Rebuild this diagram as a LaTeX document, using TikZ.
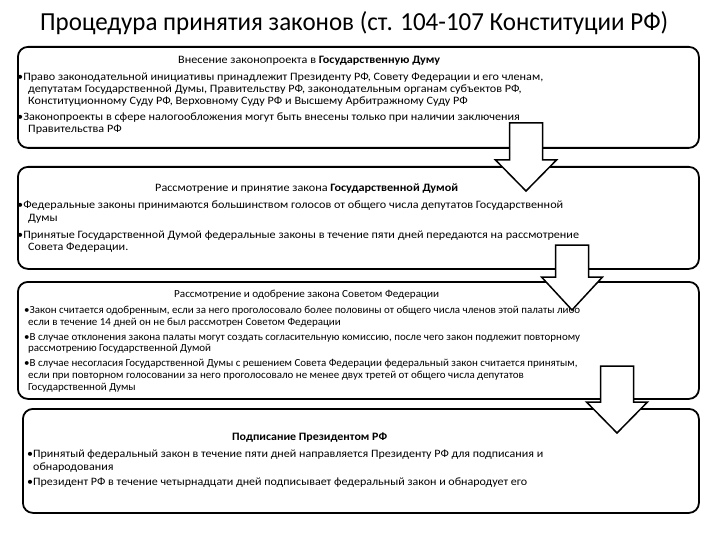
\documentclass[tikz,border=0pt]{standalone}
\usepackage{fontspec}
\setmainfont{Carlito}
\newsavebox\fitbox
\newcommand\fitscale{1}
% name, x, baseline y, target width, text  (computes and stores a scale)
\newcommand\fitline[5]{%
  \node[anchor=base west,inner sep=0pt] (#1) at (#2,#3) {%
    \sbox\fitbox{#5}%
    \pgfmathsetmacro\tmpr{#4/\the\wd\fitbox}%
    \xdef\fitscale{\tmpr}%
    \scalebox{\fitscale}[1]{\usebox\fitbox}};%
}
% name, x, baseline y, text  (uses last stored scale)
\newcommand\sameline[4]{%
  \node[anchor=base west,inner sep=0pt] (#1) at (#2,#3) {\scalebox{\fitscale}[1]{#4}};%
}
% name, centre x, shaft top, head base, tip
\newcommand\blockarrow[5]{%
  \draw[arr] ({#2-16.5},#3) coordinate (#1) -- ({#2+16.5},#3) -- ({#2+16.5},#4) -- ({#2+30.5},#4)
    -- (#2,#5) -- ({#2-30.5},#4) -- ({#2-16.5},#4) -- cycle;%
}
\tikzset{
  box/.style={draw=black, line width=1.8pt, rounded corners=10pt, anchor=north west, inner sep=0pt},
  arr/.style={draw=black, fill=white, line width=1.5pt, line join=miter},
}
\newcommand\bodyA{\fontsize{11.3}{13}\selectfont}
\newcommand\bodyC{\fontsize{10.8}{12.5}\selectfont}
\begin{document}
\begin{tikzpicture}[x=1pt,y=-1pt]
\useasboundingbox[fill=white] (0,0) rectangle (720,540);

% title
\fitline{title}{40}{31}{628}{\fontsize{26}{30}\selectfont Процедура принятия законов (ст. 104-107 Конституции РФ)}

% boxes
\node[box, minimum width=681pt, minimum height=101pt] (b1) at (17,46) {};
\node[box, minimum width=681pt, minimum height=102pt] (b2) at (17,166) {};
\node[box, minimum width=681pt, minimum height=117pt] (b3) at (17,281) {};
\node[box, minimum width=676pt, minimum height=104pt] (b4) at (22,408) {};

% box 1
\fitline{h1}{178}{64}{262}{\bodyA Внесение законопроекта в \textbf{Государственную Думу}}
\fitline{a1}{17}{80.5}{526}{\bodyA •Право законодательной инициативы принадлежит Президенту РФ, Совету Федерации и его членам,}
\sameline{a2}{28}{92.5}{\bodyA депутатам Государственной Думы, Правительству РФ, законодательным органам субъектов РФ,}
\sameline{a3}{28}{105}{\bodyA Конституционному Суду РФ, Верховному Суду РФ и Высшему Арбитражному Суду РФ}
\sameline{a4}{17}{120.5}{\bodyA •Законопроекты в сфере налогообложения могут быть внесены только при наличии заключения}
\sameline{a5}{28}{133}{\bodyA Правительства РФ}

% box 2
\fitline{h2}{155}{191.5}{303}{\bodyA Рассмотрение и принятие закона \textbf{Государственной Думой}}
\fitline{c1}{17}{209}{546}{\bodyA •Федеральные законы принимаются большинством голосов от общего числа депутатов Государственной}
\sameline{c2}{28}{222}{\bodyA Думы}
\sameline{c3}{17}{238}{\bodyA •Принятые Государственной Думой федеральные законы в течение пяти дней передаются на рассмотрение}
\sameline{c4}{28}{251}{\bodyA Совета Федерации.}

% box 3
\fitline{h3}{174}{297.5}{265}{\bodyC Рассмотрение и одобрение закона Советом Федерации}
\fitline{d1}{24}{313.5}{556}{\bodyC •Закон считается одобренным, если за него проголосовало более половины от общего числа членов этой палаты либо}
\sameline{d2}{28}{325.5}{\bodyC если в течение 14 дней он не был рассмотрен Советом Федерации}
\sameline{d3}{24}{340}{\bodyC •В случае отклонения закона палаты могут создать согласительную комиссию, после чего закон подлежит повторному}
\sameline{d4}{28}{351.5}{\bodyC рассмотрению Государственной Думой}
\sameline{d5}{24}{366}{\bodyC •В случае несогласия Государственной Думы с решением Совета Федерации федеральный закон считается принятым,}
\sameline{d6}{28}{378.5}{\bodyC если при повторном голосовании за него проголосовало не менее двух третей от общего числа депутатов}
\sameline{d7}{28}{390}{\bodyC Государственной Думы}

% box 4
\fitline{h4}{232}{440.5}{155}{\bodyA \textbf{Подписание Президентом РФ}}
\fitline{e1}{27}{457.5}{516}{\bodyA •Принятый федеральный закон в течение пяти дней направляется Президенту РФ для подписания и}
\sameline{e2}{33}{470.5}{\bodyA обнародования}
\sameline{e3}{27}{485}{\bodyA •Президент РФ в течение четырнадцати дней подписывает федеральный закон и обнародует его}

% arrows
\blockarrow{ar1}{526}{123}{160}{191}
\blockarrow{ar2}{572}{245}{277}{310}
\blockarrow{ar3}{617}{366}{402}{433}
\end{tikzpicture}
\end{document}
